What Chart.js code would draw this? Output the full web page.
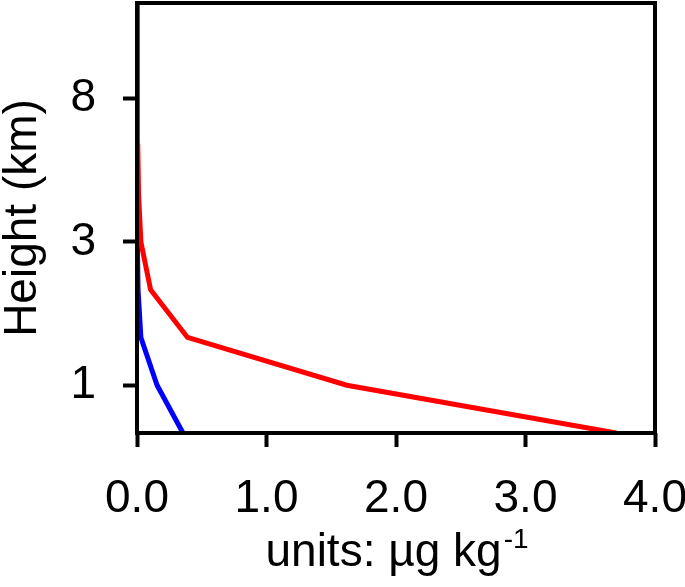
<!DOCTYPE html>
<html>
<head>
<meta charset="utf-8">
<script src="https://cdn.jsdelivr.net/npm/chart.js@4.4.1/dist/chart.umd.min.js"></script>
<style>
  html, body { margin: 0; padding: 0; background: #fff; }
  #wrap { width: 685px; height: 587px; }
</style>
</head>
<body>
<div id="wrap"><canvas id="profiel" width="685" height="587"></canvas></div>
<script>
// modelniveaus (verticale as), gelijk verdeeld
const levels = [2, 3, 4, 5, 6, 7, 8, 9, 10, 11];
// waardes per niveau (µg/kg)
const redValues = [3.70, 1.62, 0.39, 0.105, 0.03, 0.012, 0.006, 0.003, 0.002, 0.001];
const blueValues = [0.355, 0.155, 0.03, 0.008, 0.003, 0.001, 0.0, 0.0, 0.0, 0.0];

// tick labels
const yTickPos = [3, 6, 9];
const yTickLabels = ['1', '3', '8'];
const xTicks = [0, 1, 2, 3, 4];

const yTitle = 'Height (km)';
const xTitle = 'units: µg kg';
const xTitleSup = '-1';

const FONT = '"Liberation Sans", Arial, sans-serif';
Chart.defaults.font.family = FONT;
Chart.defaults.color = '#000';

// punten maken: x = waarde, y = niveau
function toPoints(values) {
  return values.map((v, i) => ({ x: v, y: levels[i] }));
}

// kader om de grafiek + as-titel met superscript
const framePlugin = {
  id: 'frame',
  afterDraw(chart) {
    const { ctx, chartArea } = chart;
    ctx.save();
    ctx.strokeStyle = '#000';
    ctx.lineWidth = 4;
    ctx.strokeRect(chartArea.left, chartArea.top, chartArea.right - chartArea.left, chartArea.bottom - chartArea.top);

    // x-as titel
    const mainFont = '46px ' + FONT;
    const supFont = '28px ' + FONT;
    ctx.font = mainFont;
    const w1 = ctx.measureText(xTitle).width;
    ctx.font = supFont;
    const w2 = ctx.measureText(xTitleSup).width;
    const cx = (chartArea.left + chartArea.right) / 2;
    const startX = cx - (w1 + w2) / 2;
    const baseY = 566;
    ctx.fillStyle = '#000';
    ctx.textBaseline = 'alphabetic';
    ctx.textAlign = 'left';
    ctx.font = mainFont;
    ctx.fillText(xTitle, startX, baseY);
    ctx.font = supFont;
    ctx.fillText(xTitleSup, startX + w1 + 2, baseY - 18);
    ctx.restore();
  }
};

const ctx = document.getElementById('profiel').getContext('2d');
new Chart(ctx, {
  type: 'line',
  data: {
    datasets: [
      {
        label: 'rood',
        data: toPoints(redValues),
        borderColor: '#ff0000',
        borderWidth: 5,
        pointRadius: 0,
        tension: 0,
        fill: false
      },
      {
        label: 'blauw',
        data: toPoints(blueValues),
        borderColor: '#0000ff',
        borderWidth: 5,
        pointRadius: 0,
        tension: 0,
        fill: false
      }
    ]
  },
  options: {
    responsive: false,
    animation: false,
    devicePixelRatio: 1,
    layout: { padding: { top: 3, right: 30, left: 0, bottom: 0 } },
    plugins: {
      legend: { display: false },
      tooltip: { enabled: false },
      title: { display: false }
    },
    scales: {
      x: {
        type: 'linear',
        min: 0,
        max: 4,
        afterBuildTicks: (scale) => { scale.ticks = xTicks.map(v => ({ value: v })); },
        ticks: {
          font: { size: 46 },
          padding: 25,
          maxRotation: 0,
          callback: (v) => Number(v).toFixed(1)
        },
        grid: {
          drawOnChartArea: false,
          drawTicks: true,
          tickLength: 14,
          tickWidth: 4,
          tickColor: '#000'
        },
        border: { display: false },
        afterFit: (scale) => {
          scale.height = 154;
          scale.paddingLeft = 0;
          scale.paddingRight = 0;
        }
      },
      y: {
        type: 'linear',
        min: 2,
        max: 11,
        afterBuildTicks: (scale) => { scale.ticks = yTickPos.map(v => ({ value: v })); },
        ticks: {
          font: { size: 46 },
          padding: 27,
          callback: (v) => {
            const i = yTickPos.indexOf(v);
            return i >= 0 ? yTickLabels[i] : '';
          }
        },
        grid: {
          drawOnChartArea: false,
          drawTicks: true,
          tickLength: 14,
          tickWidth: 4,
          tickColor: '#000'
        },
        border: { display: false },
        title: {
          display: true,
          text: yTitle,
          font: { size: 46, lineHeight: 1 },
          padding: { top: 0, bottom: 0 }
        },
        afterFit: (scale) => {
          scale.width = 137;
          scale.paddingTop = 0;
          scale.paddingBottom = 0;
        }
      }
    }
  },
  plugins: [framePlugin]
});
</script>
</body>
</html>
